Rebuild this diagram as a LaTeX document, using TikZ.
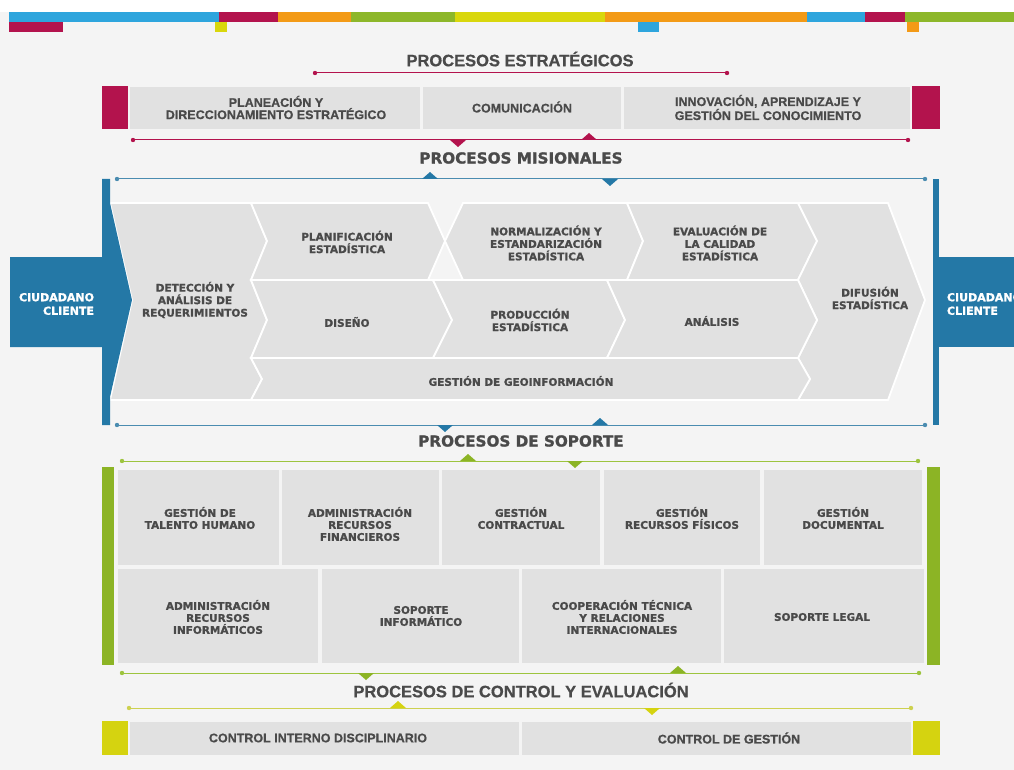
\documentclass[tikz,border=0pt]{standalone}
\usepackage{fontspec}
\newfontfamily\condf{Liberation Sans}[BoldFeatures={FakeBold=0.8}]
\newfontfamily\heavyf{DejaVu Sans}[BoldFeatures={FakeBold=1.3}]
\definecolor{bg}{HTML}{F4F4F4}
\definecolor{boxg}{HTML}{E1E1E1}
\definecolor{txt}{HTML}{4A4A4A}
\definecolor{maroon}{HTML}{B3134D}
\definecolor{bandblue}{HTML}{2EA5DD}
\definecolor{bandorange}{HTML}{F39A16}
\definecolor{bandgreen}{HTML}{8DB72A}
\definecolor{bandyellow}{HTML}{D9D70C}
\definecolor{misblue}{HTML}{2478A6}
\definecolor{misline}{HTML}{4A8CB0}
\definecolor{sopgreen}{HTML}{8CB425}
\definecolor{sopline}{HTML}{9DC43E}
\definecolor{ctlyellow}{HTML}{D5D310}
\definecolor{ctlline}{HTML}{CDD150}
\begin{document}
\begin{tikzpicture}[x=1pt,y=-1pt,
  every node/.style={inner sep=0pt,outer sep=0pt},
  ttlC/.style={font=\condf\bfseries\fontsize{16.5}{18}\selectfont,text=txt},
  ttlH/.style={font=\heavyf\bfseries\fontsize{15.2}{18}\selectfont,text=txt},
  lblC/.style={font=\condf\bfseries\fontsize{12.5}{11}\selectfont,text=txt,align=center},
  lblH/.style={font=\heavyf\bfseries\fontsize{10.5}{12.5}\selectfont,text=txt,align=center},
  lblS/.style={font=\heavyf\bfseries\fontsize{10.5}{12}\selectfont,text=txt,align=center},
  cli/.style={font=\heavyf\bfseries\fontsize{11}{13.5}\selectfont,text=white},
  gline/.style={line width=1pt},
  chev/.style={fill=boxg,draw=white,line width=1.8pt,line join=miter},
  tridown/.pic={\fill (-8,0) -- (8,0) -- (0,7) -- cycle;},
  triup/.pic={\fill (-8,0) -- (8,0) -- (0,-7) -- cycle;},
]
\useasboundingbox (0,0) rectangle (1014,770);
\fill[bg] (0,0) rectangle (1014,770);
\fill[white] (0,0) rectangle (1014,12.5);
% ---------- colour band ----------
\fill[bandblue] (9,12.5) rectangle (219,22);
\fill[maroon] (219,12.5) rectangle (278,22);
\fill[bandorange] (278,12.5) rectangle (351,22);
\fill[bandgreen] (351,12.5) rectangle (455,22);
\fill[bandyellow] (455,12.5) rectangle (605,22);
\fill[bandorange] (605,12.5) rectangle (807,22);
\fill[bandblue] (807,12.5) rectangle (865,22);
\fill[maroon] (865,12.5) rectangle (905,22);
\fill[bandgreen] (905,12.5) rectangle (1014,22);
\fill[maroon] (9,22) rectangle (63,32.5);
\fill[bandyellow] (215,22) rectangle (227,32.5);
\fill[bandblue] (638,22) rectangle (659,32.5);
\fill[bandorange] (907,22) rectangle (919,32.5);
% ---------- estrategicos ----------
\node[ttlC] (tEst) at (520,59) {PROCESOS ESTRATÉGICOS};
\coordinate (e1a) at (315,73); \coordinate (e1b) at (727,73);
\draw[gline,maroon] (e1a) -- (e1b);
\fill[maroon] (e1a) circle (2.2pt) (e1b) circle (2.2pt);
\fill[maroon] (102,86) rectangle (128,129);
\fill[maroon] (912,86) rectangle (940,129);
\fill[boxg] (130,87) rectangle (420,129);
\fill[boxg] (423,87) rectangle (621,129);
\fill[boxg] (624,87) rectangle (910,129);
\node[lblC] (sPlan) at (276,107.5) {PLANEACIÓN Y\\DIRECCIONAMIENTO ESTRATÉGICO};
\node[lblC] (sCom) at (522,107) {COMUNICACIÓN};
\node[lblC] (sInn) at (768,107.5) {INNOVACIÓN, APRENDIZAJE Y\\GESTIÓN DEL CONOCIMIENTO};
\coordinate (e2a) at (133,140); \coordinate (e2b) at (908,140);
\draw[gline,maroon] (e2a) -- (e2b);
\fill[maroon] (e2a) circle (2.2pt) (e2b) circle (2.2pt);
\pic[maroon] at (458,140) {tridown};
\pic[maroon] at (589,140) {triup};
% ---------- misionales ----------
\node[ttlH] (tMis) at (521,158) {PROCESOS MISIONALES};
\coordinate (m1a) at (117,179); \coordinate (m1b) at (925,179);
\draw[gline,misline] (m1a) -- (m1b);
\fill[misline] (m1a) circle (2.2pt) (m1b) circle (2.2pt);
\pic[misblue] at (430,179) {triup};
\pic[misblue] at (610,179) {tridown};
% chevrons
\path[chev] (110,203) -- (251,203) -- (267,241) -- (251,280) -- (267,320) -- (251,358) -- (262,379) -- (251,400) -- (110,400) -- (132,300) -- cycle;
\path[chev] (251,203) -- (428,203) -- (445,241) -- (428,280) -- (251,280) -- (267,241) -- cycle;
\path[chev] (463,203) -- (627,203) -- (643,241) -- (627,280) -- (463,280) -- (445,241) -- cycle;
\path[chev] (627,203) -- (798,203) -- (817,241) -- (798,280) -- (627,280) -- (643,241) -- cycle;
\path[chev] (798,203) -- (888,203) -- (925,300) -- (888,400) -- (798,400) -- (810,379) -- (798,358) -- (817,320) -- (798,280) -- (817,241) -- cycle;
\path[chev] (251,280) -- (433,280) -- (452,320) -- (433,358) -- (251,358) -- (267,320) -- cycle;
\path[chev] (433,280) -- (607,280) -- (625,320) -- (607,358) -- (433,358) -- (452,320) -- cycle;
\path[chev] (607,280) -- (798,280) -- (817,320) -- (798,358) -- (607,358) -- (625,320) -- cycle;
\path[chev] (251,358) -- (798,358) -- (810,379) -- (798,400) -- (251,400) -- (262,379) -- cycle;
% blue ends
\fill[misblue] (10,257) -- (102,257) -- (102,179) -- (110,179) -- (110,203) -- (132,300) -- (110,397) -- (110,425) -- (102,425) -- (102,347) -- (10,347) -- cycle;
\fill[misblue] (933,179) rectangle (939,425);
\fill[misblue] (939,257) rectangle (1014,347);
\node[cli,align=right,anchor=east] (cL) at (94,304) {CIUDADANO\\CLIENTE};
\node[cli,align=left,anchor=west] (cR) at (947,304) {CIUDADANO\\CLIENTE};
% labels
\node[lblH] (mDet) at (195,300) {DETECCIÓN Y\\ANÁLISIS DE\\REQUERIMIENTOS};
\node[lblH] (mPlan) at (347,242) {PLANIFICACIÓN\\ESTADÍSTICA};
\node[lblH] (mNorm) at (546,243) {NORMALIZACIÓN Y\\ESTANDARIZACIÓN\\ESTADÍSTICA};
\node[lblH] (mEval) at (720,243) {EVALUACIÓN DE\\LA CALIDAD\\ESTADÍSTICA};
\node[lblH] (mDis) at (347,322) {DISEÑO};
\node[lblH] (mProd) at (530,320) {PRODUCCIÓN\\ESTADÍSTICA};
\node[lblH] (mAna) at (712,321) {ANÁLISIS};
\node[lblH] (mDif) at (870,298) {DIFUSIÓN\\ESTADÍSTICA};
\node[lblH] (mGeo) at (521,381) {GESTIÓN DE GEOINFORMACIÓN};
\coordinate (m2a) at (117,425); \coordinate (m2b) at (925,425);
\draw[gline,misline] (m2a) -- (m2b);
\fill[misline] (m2a) circle (2.2pt) (m2b) circle (2.2pt);
\pic[misblue] at (445,425) {tridown};
\pic[misblue] at (600,425) {triup};
% ---------- soporte ----------
\node[ttlH] (tSop) at (521,441) {PROCESOS DE SOPORTE};
\coordinate (p1a) at (122,461); \coordinate (p1b) at (918,461);
\draw[gline,sopline] (p1a) -- (p1b);
\fill[sopline] (p1a) circle (2.2pt) (p1b) circle (2.2pt);
\pic[sopgreen] at (468,461) {triup};
\pic[sopgreen] at (575,461) {tridown};
\fill[sopgreen] (102,467) rectangle (114,665);
\fill[sopgreen] (927,467) rectangle (940,665);
\fill[boxg] (118,470) rectangle (279,565);
\fill[boxg] (282,470) rectangle (439,565);
\fill[boxg] (442,470) rectangle (600,565);
\fill[boxg] (604,470) rectangle (760,565);
\fill[boxg] (764,470) rectangle (922,565);
\fill[boxg] (118,569) rectangle (318,663);
\fill[boxg] (322,569) rectangle (519,663);
\fill[boxg] (522,569) rectangle (721,663);
\fill[boxg] (724,569) rectangle (924,663);
\node[lblS] (pTal) at (200,518) {GESTIÓN DE\\TALENTO HUMANO};
\node[lblS] (pFin) at (360,524) {ADMINISTRACIÓN\\RECURSOS\\FINANCIEROS};
\node[lblS] (pCon) at (521,518) {GESTIÓN\\CONTRACTUAL};
\node[lblS] (pFis) at (682,518) {GESTIÓN\\RECURSOS FÍSICOS};
\node[lblS] (pDoc) at (843,518) {GESTIÓN\\DOCUMENTAL};
\node[lblS] (pInf) at (218,617) {ADMINISTRACIÓN\\RECURSOS\\INFORMÁTICOS};
\node[lblS] (pSop) at (421,616) {SOPORTE\\INFORMÁTICO};
\node[lblS] (pCoo) at (622,617) {COOPERACIÓN TÉCNICA\\Y RELACIONES\\INTERNACIONALES};
\node[lblS] (pLeg) at (822,617) {SOPORTE LEGAL};
\coordinate (p2a) at (122,673); \coordinate (p2b) at (919,673);
\draw[gline,sopline] (p2a) -- (p2b);
\fill[sopline] (p2a) circle (2.2pt) (p2b) circle (2.2pt);
\pic[sopgreen] at (366,673) {tridown};
\pic[sopgreen] at (678,673) {triup};
% ---------- control ----------
\node[ttlC] (tCon) at (521,690) {PROCESOS DE CONTROL Y EVALUACIÓN};
\coordinate (c1a) at (129,708); \coordinate (c1b) at (911,708);
\draw[gline,ctlline] (c1a) -- (c1b);
\fill[ctlline] (c1a) circle (2.2pt) (c1b) circle (2.2pt);
\pic[ctlyellow] at (398,708) {triup};
\pic[ctlyellow] at (652,708) {tridown};
\fill[ctlyellow] (102,721) rectangle (128,755);
\fill[ctlyellow] (913,721) rectangle (940,755);
\fill[boxg] (130,722) rectangle (519,755);
\fill[boxg] (522,722) rectangle (911,755);
\node[lblC] (cInt) at (318,738) {CONTROL INTERNO DISCIPLINARIO};
\node[lblC] (cGes) at (729,738) {CONTROL DE GESTIÓN};
\end{tikzpicture}
\end{document}
